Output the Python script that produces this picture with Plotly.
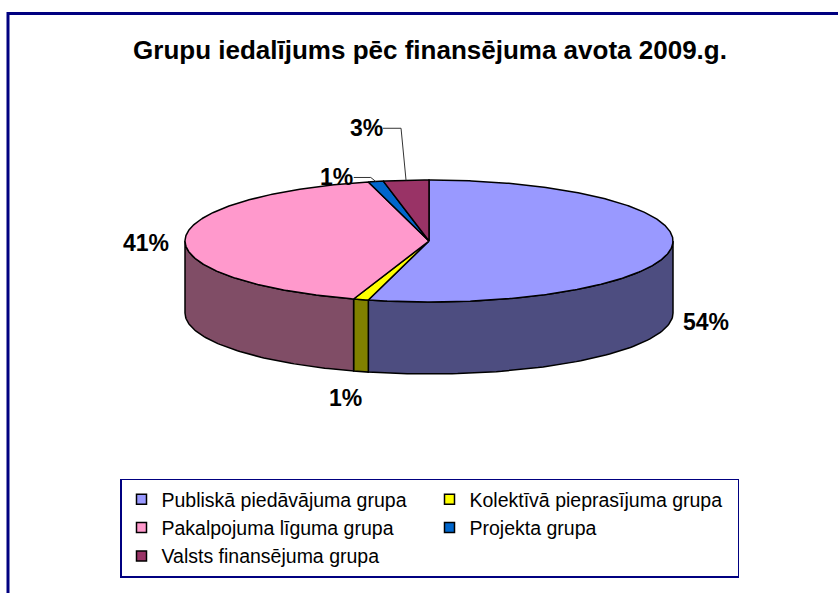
import numpy as np
import plotly.graph_objects as go

# ---------------- data ----------------
categories = [
    "Publiskā piedāvājuma grupa",
    "Kolektīvā pieprasījuma grupa",
    "Pakalpojuma līguma grupa",
    "Projekta grupa",
    "Valsts finansējuma grupa",
]
shares = [54, 1, 41, 1, 3]
label_texts = ["54%", "1%", "41%", "1%", "3%"]
title_text = "Grupu iedalījums pēc finansējuma avota 2009.g."

# ---------------- styles ----------------
top_colors = ["#9999FF", "#FFFF00", "#FF99CC", "#0066CC", "#993366"]
side_colors = ["#4D4D80", "#808000", "#804D66", "#003366", "#4D1A33"]
FONT = "Arial, Liberation Sans, sans-serif"

W, H = 838, 593
ML, MR, MT, MB = 110, 60, 13, 6
PW, PH = W - ML - MR, H - MT - MB

# pie geometry (in pixel-like axis units)
CX, CY, RA, RB, DEPTH = 429, 241, 244, 61, 72
# label offsets from the slice anchor point (pixels)
label_offsets = [(35, 37), (-15, 62), (-39, 4), (-39, -4), (-40, -52)]
leader_slices = [3, 4]


def px_x(p):
    return (p - ML) / PW


def px_y(p):
    return (H - MB - p) / PH


def rim(theta_deg, dy=0.0):
    t = np.radians(theta_deg)
    return CX + RA * np.sin(t), CY - RB * np.cos(t) + dy


total = float(sum(shares))
edges = np.concatenate([[0.0], np.cumsum(shares) / total * 360.0])

fig = go.Figure()

# side walls (front half only: 90..270 deg clockwise from top)
for i in range(len(shares)):
    a0, a1 = edges[i], edges[i + 1]
    s, e = max(a0, 90.0), min(a1, 270.0)
    if e <= s:
        continue
    th = np.linspace(s, e, 80)
    xt, yt = rim(th)
    xb, yb = rim(th[::-1], DEPTH)
    fig.add_trace(go.Scatter(
        x=np.concatenate([xt, xb, xt[:1]]), y=np.concatenate([yt, yb, yt[:1]]),
        mode="lines", fill="toself", fillcolor=side_colors[i],
        line=dict(color="black", width=1.5), showlegend=False, hoverinfo="skip"))

# top faces
for i in range(len(shares)):
    a0, a1 = edges[i], edges[i + 1]
    th = np.linspace(a0, a1, max(int((a1 - a0) * 2), 4))
    xt, yt = rim(th)
    fig.add_trace(go.Scatter(
        x=np.concatenate([[CX], xt, [CX]]), y=np.concatenate([[CY], yt, [CY]]),
        mode="lines", fill="toself", fillcolor=top_colors[i],
        line=dict(color="black", width=1.5), showlegend=False,
        name=categories[i], hoverinfo="name"))

# labels
for i in range(len(shares)):
    mid = (edges[i] + edges[i + 1]) / 2
    front = np.cos(np.radians(mid)) < 0
    ax_, ay_ = rim(mid, DEPTH / 2 if (front and i not in leader_slices) else 0)
    dx, dy = label_offsets[i]
    lx, ly = ax_ + dx, ay_ + dy
    if i in leader_slices:
        fig.add_trace(go.Scatter(
            x=[ax_, ax_ - 5, lx + 17], y=[ay_, ly, ly], mode="lines",
            line=dict(color="#333333", width=1), showlegend=False, hoverinfo="skip"))
    fig.add_annotation(x=lx, y=ly, xref="x", yref="y", text="<b>%s</b>" % label_texts[i],
                       showarrow=False, font=dict(family=FONT, size=23, color="black"))

# legend entries
for i in range(len(shares)):
    fig.add_trace(go.Scatter(
        x=[None], y=[None], mode="markers", name=categories[i],
        marker=dict(symbol="square", size=10, color=top_colors[i],
                    line=dict(color="black", width=1.5))))

# outer frame
fig.add_shape(type="rect", xref="paper", yref="paper",
              x0=px_x(8), x1=px_x(900), y0=px_y(700), y1=px_y(13.5),
              line=dict(color="#000080", width=3), fillcolor="rgba(0,0,0,0)", layer="below")

fig.update_layout(
    width=W, height=H,
    margin=dict(l=ML, r=MR, t=MT, b=MB),
    paper_bgcolor="white", plot_bgcolor="white",
    title=dict(text="<b>%s</b>" % title_text, x=430 / W, xref="container", xanchor="center",
               y=1 - 50 / H, yref="container", yanchor="middle",
               font=dict(family=FONT, size=26, color="black")),
    xaxis=dict(range=[ML, W - MR], visible=False, fixedrange=True),
    yaxis=dict(range=[H - MB, MT], visible=False, fixedrange=True),
    showlegend=True,
    legend=dict(orientation="h", x=px_x(120), xanchor="left", y=px_y(528), yanchor="middle",
                entrywidth=263, entrywidthmode="pixels",
                bordercolor="#000080", borderwidth=1.5, bgcolor="white",
                font=dict(family=FONT, size=19.5, color="black"),
                itemclick=False, itemdoubleclick=False),
)

fig.write_html("out.html", config={"displayModeBar": False},
               post_script="document.body.style.margin='0';document.body.style.overflow='hidden';")
